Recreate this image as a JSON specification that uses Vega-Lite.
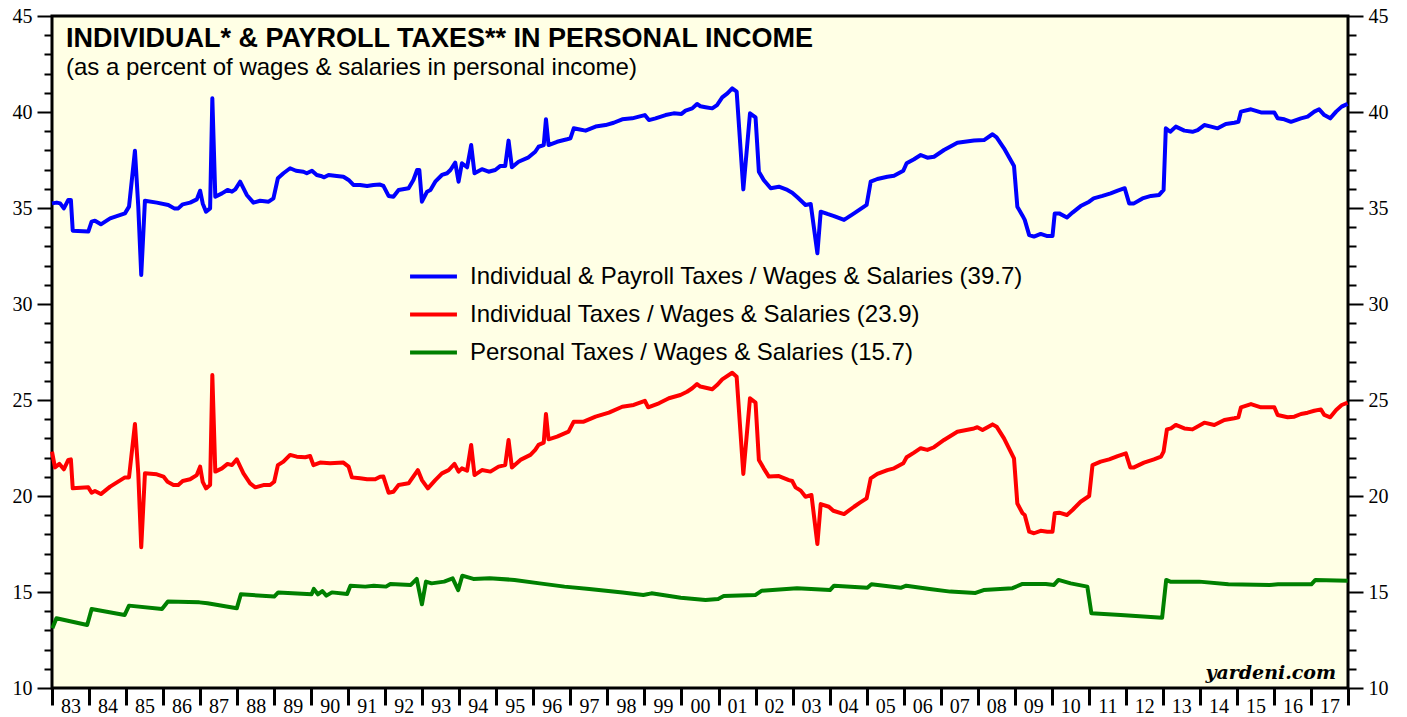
{
  "$schema": "https://vega.github.io/schema/vega-lite/v6.json",
  "width": 1296,
  "height": 672,
  "autosize": "none",
  "padding": {"left": 52, "top": 16, "right": 59, "bottom": 29},
  "background": "white",
  "config": {
    "view": {"fill": "#FFFFE5", "stroke": "#000000", "strokeWidth": 3},
    "axis": {"grid": false, "domain": false, "labelFont": "Liberation Serif", "labelFontSize": 20, "labelColor": "#000000", "tickColor": "#000000", "labelOverlap": false, "labelFlush": false, "labelBound": false}
  },
  "title": {
    "text": "INDIVIDUAL* & PAYROLL TAXES** IN PERSONAL INCOME",
    "subtitle": "(as a percent of wages & salaries in personal income)",
    "anchor": "start",
    "frame": "group",
    "orient": "top",
    "offset": -75,
    "dx": 14,
    "font": "Liberation Sans",
    "fontSize": 27,
    "fontWeight": "bold",
    "color": "#000000",
    "subtitleFont": "Liberation Sans",
    "subtitleFontSize": 24,
    "subtitleColor": "#000000",
    "subtitlePadding": 3
  },
  "layer": [
    {
      "data": {"values": [
        {"series":"IP","year":1983.00,"pct":35.24},{"series":"IP","year":1983.13,"pct":35.28},{"series":"IP","year":1983.22,"pct":35.24},{"series":"IP","year":1983.32,"pct":34.98},{"series":"IP","year":1983.44,"pct":35.42},{"series":"IP","year":1983.51,"pct":35.42},{"series":"IP","year":1983.56,"pct":33.82},{"series":"IP","year":1983.98,"pct":33.77},
        {"series":"IP","year":1984.07,"pct":34.29},{"series":"IP","year":1984.16,"pct":34.34},{"series":"IP","year":1984.32,"pct":34.15},{"series":"IP","year":1984.57,"pct":34.46},{"series":"IP","year":1984.97,"pct":34.72},
        {"series":"IP","year":1985.08,"pct":35.07},{"series":"IP","year":1985.24,"pct":37.98},{"series":"IP","year":1985.33,"pct":35.07},{"series":"IP","year":1985.41,"pct":31.51},{"series":"IP","year":1985.51,"pct":35.38},{"series":"IP","year":1985.83,"pct":35.28},
        {"series":"IP","year":1986.14,"pct":35.16},{"series":"IP","year":1986.30,"pct":34.98},{"series":"IP","year":1986.41,"pct":34.98},{"series":"IP","year":1986.53,"pct":35.19},{"series":"IP","year":1986.73,"pct":35.28},{"series":"IP","year":1986.91,"pct":35.45},
        {"series":"IP","year":1987.00,"pct":35.9},{"series":"IP","year":1987.07,"pct":35.24},{"series":"IP","year":1987.16,"pct":34.81},{"series":"IP","year":1987.27,"pct":34.98},{"series":"IP","year":1987.33,"pct":40.71},{"series":"IP","year":1987.41,"pct":35.59},{"series":"IP","year":1987.59,"pct":35.76},{"series":"IP","year":1987.74,"pct":35.94},{"series":"IP","year":1987.86,"pct":35.85},{"series":"IP","year":1987.95,"pct":35.97},
        {"series":"IP","year":1988.08,"pct":36.37},{"series":"IP","year":1988.26,"pct":35.68},{"series":"IP","year":1988.44,"pct":35.28},{"series":"IP","year":1988.62,"pct":35.38},{"series":"IP","year":1988.85,"pct":35.33},{"series":"IP","year":1988.98,"pct":35.5},
        {"series":"IP","year":1989.10,"pct":36.55},{"series":"IP","year":1989.25,"pct":36.81},{"series":"IP","year":1989.43,"pct":37.07},{"series":"IP","year":1989.59,"pct":36.94},{"series":"IP","year":1989.79,"pct":36.89},{"series":"IP","year":1989.88,"pct":36.81},
        {"series":"IP","year":1990.02,"pct":36.94},{"series":"IP","year":1990.15,"pct":36.72},{"series":"IP","year":1990.26,"pct":36.67},{"series":"IP","year":1990.35,"pct":36.6},{"series":"IP","year":1990.47,"pct":36.72},{"series":"IP","year":1990.69,"pct":36.67},{"series":"IP","year":1990.87,"pct":36.63},
        {"series":"IP","year":1991.01,"pct":36.46},{"series":"IP","year":1991.14,"pct":36.2},{"series":"IP","year":1991.32,"pct":36.2},{"series":"IP","year":1991.51,"pct":36.15},{"series":"IP","year":1991.68,"pct":36.2},{"series":"IP","year":1991.86,"pct":36.22},{"series":"IP","year":1991.95,"pct":36.15},
        {"series":"IP","year":1992.09,"pct":35.63},{"series":"IP","year":1992.22,"pct":35.59},{"series":"IP","year":1992.36,"pct":35.94},{"series":"IP","year":1992.63,"pct":36.03},{"series":"IP","year":1992.76,"pct":36.46},{"series":"IP","year":1992.86,"pct":36.98},{"series":"IP","year":1992.92,"pct":36.98},{"series":"IP","year":1992.99,"pct":35.33},
        {"series":"IP","year":1993.13,"pct":35.85},{"series":"IP","year":1993.22,"pct":35.94},{"series":"IP","year":1993.35,"pct":36.37},{"series":"IP","year":1993.53,"pct":36.72},{"series":"IP","year":1993.67,"pct":36.81},{"series":"IP","year":1993.76,"pct":36.98},{"series":"IP","year":1993.89,"pct":37.36},{"series":"IP","year":1993.98,"pct":36.37},
        {"series":"IP","year":1994.07,"pct":37.33},{"series":"IP","year":1994.21,"pct":37.12},{"series":"IP","year":1994.32,"pct":38.28},{"series":"IP","year":1994.41,"pct":36.81},{"series":"IP","year":1994.61,"pct":37.02},{"series":"IP","year":1994.79,"pct":36.89},{"series":"IP","year":1994.97,"pct":36.98},
        {"series":"IP","year":1995.11,"pct":37.19},{"series":"IP","year":1995.24,"pct":37.19},{"series":"IP","year":1995.33,"pct":38.51},{"series":"IP","year":1995.42,"pct":37.12},{"series":"IP","year":1995.60,"pct":37.41},{"series":"IP","year":1995.87,"pct":37.64},
        {"series":"IP","year":1996.05,"pct":37.93},{"series":"IP","year":1996.14,"pct":38.19},{"series":"IP","year":1996.28,"pct":38.28},{"series":"IP","year":1996.34,"pct":39.62},{"series":"IP","year":1996.41,"pct":38.28},{"series":"IP","year":1996.64,"pct":38.45},{"series":"IP","year":1996.91,"pct":38.58},
        {"series":"IP","year":1997.00,"pct":38.63},{"series":"IP","year":1997.09,"pct":39.15},{"series":"IP","year":1997.22,"pct":39.1},{"series":"IP","year":1997.41,"pct":39.03},{"series":"IP","year":1997.68,"pct":39.24},{"series":"IP","year":1997.95,"pct":39.32},
        {"series":"IP","year":1998.17,"pct":39.44},{"series":"IP","year":1998.40,"pct":39.62},{"series":"IP","year":1998.67,"pct":39.67},{"series":"IP","year":1998.85,"pct":39.76},
        {"series":"IP","year":1999.01,"pct":39.84},{"series":"IP","year":1999.12,"pct":39.58},{"series":"IP","year":1999.30,"pct":39.67},{"series":"IP","year":1999.57,"pct":39.84},{"series":"IP","year":1999.79,"pct":39.93},
        {"series":"IP","year":2000.00,"pct":39.9},{"series":"IP","year":2000.11,"pct":40.07},{"series":"IP","year":2000.29,"pct":40.19},{"series":"IP","year":2000.42,"pct":40.42},{"series":"IP","year":2000.51,"pct":40.3},{"series":"IP","year":2000.65,"pct":40.25},{"series":"IP","year":2000.83,"pct":40.19},{"series":"IP","year":2000.96,"pct":40.36},
        {"series":"IP","year":2001.10,"pct":40.76},{"series":"IP","year":2001.24,"pct":40.97},{"series":"IP","year":2001.37,"pct":41.23},{"series":"IP","year":2001.49,"pct":41.06},{"series":"IP","year":2001.67,"pct":35.97},{"series":"IP","year":2001.85,"pct":39.93},
        {"series":"IP","year":2002.00,"pct":39.72},{"series":"IP","year":2002.09,"pct":36.89},{"series":"IP","year":2002.22,"pct":36.46},{"series":"IP","year":2002.41,"pct":36.03},{"series":"IP","year":2002.63,"pct":36.11},{"series":"IP","year":2002.86,"pct":35.94},{"series":"IP","year":2002.99,"pct":35.8},
        {"series":"IP","year":2003.13,"pct":35.56},{"series":"IP","year":2003.35,"pct":35.16},{"series":"IP","year":2003.49,"pct":35.21},{"series":"IP","year":2003.67,"pct":32.64},{"series":"IP","year":2003.76,"pct":34.81},{"series":"IP","year":2003.94,"pct":34.69},
        {"series":"IP","year":2004.12,"pct":34.58},{"series":"IP","year":2004.39,"pct":34.38},{"series":"IP","year":2004.66,"pct":34.72},{"series":"IP","year":2004.82,"pct":34.93},
        {"series":"IP","year":2005.00,"pct":35.16},{"series":"IP","year":2005.11,"pct":36.37},{"series":"IP","year":2005.29,"pct":36.51},{"series":"IP","year":2005.56,"pct":36.63},{"series":"IP","year":2005.74,"pct":36.68},{"series":"IP","year":2005.99,"pct":36.94},
        {"series":"IP","year":2006.08,"pct":37.33},{"series":"IP","year":2006.28,"pct":37.54},{"series":"IP","year":2006.46,"pct":37.76},{"series":"IP","year":2006.64,"pct":37.62},{"series":"IP","year":2006.82,"pct":37.67},
        {"series":"IP","year":2007.09,"pct":38.02},{"series":"IP","year":2007.45,"pct":38.4},{"series":"IP","year":2007.90,"pct":38.51},
        {"series":"IP","year":2008.17,"pct":38.54},{"series":"IP","year":2008.40,"pct":38.84},{"series":"IP","year":2008.51,"pct":38.68},{"series":"IP","year":2008.71,"pct":38.11},{"series":"IP","year":2008.98,"pct":37.19},
        {"series":"IP","year":2009.07,"pct":35.07},{"series":"IP","year":2009.21,"pct":34.6},{"series":"IP","year":2009.27,"pct":34.38},{"series":"IP","year":2009.39,"pct":33.59},{"series":"IP","year":2009.52,"pct":33.51},{"series":"IP","year":2009.70,"pct":33.65},{"series":"IP","year":2009.88,"pct":33.54},
        {"series":"IP","year":2010.02,"pct":33.54},{"series":"IP","year":2010.08,"pct":34.72},{"series":"IP","year":2010.20,"pct":34.72},{"series":"IP","year":2010.41,"pct":34.51},{"series":"IP","year":2010.56,"pct":34.76},{"series":"IP","year":2010.78,"pct":35.1},
        {"series":"IP","year":2011.01,"pct":35.33},{"series":"IP","year":2011.13,"pct":35.5},{"series":"IP","year":2011.37,"pct":35.63},{"series":"IP","year":2011.59,"pct":35.76},{"series":"IP","year":2011.78,"pct":35.9},{"series":"IP","year":2011.97,"pct":36.03},
        {"series":"IP","year":2012.09,"pct":35.24},{"series":"IP","year":2012.22,"pct":35.24},{"series":"IP","year":2012.45,"pct":35.5},{"series":"IP","year":2012.68,"pct":35.63},{"series":"IP","year":2012.90,"pct":35.68},
        {"series":"IP","year":2013.02,"pct":35.94},{"series":"IP","year":2013.08,"pct":39.15},{"series":"IP","year":2013.20,"pct":38.97},{"series":"IP","year":2013.35,"pct":39.24},{"series":"IP","year":2013.58,"pct":39.03},{"series":"IP","year":2013.80,"pct":38.97},{"series":"IP","year":2013.94,"pct":39.06},
        {"series":"IP","year":2014.12,"pct":39.32},{"series":"IP","year":2014.30,"pct":39.24},{"series":"IP","year":2014.48,"pct":39.15},{"series":"IP","year":2014.70,"pct":39.38},{"series":"IP","year":2014.93,"pct":39.44},
        {"series":"IP","year":2015.04,"pct":39.49},{"series":"IP","year":2015.11,"pct":40.02},{"series":"IP","year":2015.38,"pct":40.14},{"series":"IP","year":2015.65,"pct":39.98},
        {"series":"IP","year":2016.01,"pct":39.97},{"series":"IP","year":2016.10,"pct":39.67},{"series":"IP","year":2016.28,"pct":39.62},{"series":"IP","year":2016.46,"pct":39.49},{"series":"IP","year":2016.73,"pct":39.67},{"series":"IP","year":2016.91,"pct":39.76},
        {"series":"IP","year":2017.09,"pct":40.02},{"series":"IP","year":2017.22,"pct":40.14},{"series":"IP","year":2017.36,"pct":39.84},{"series":"IP","year":2017.52,"pct":39.67},{"series":"IP","year":2017.68,"pct":40.02},{"series":"IP","year":2017.83,"pct":40.28},{"series":"IP","year":2017.99,"pct":40.42},

        {"series":"I","year":1983.00,"pct":22.31},{"series":"I","year":1983.08,"pct":21.49},{"series":"I","year":1983.20,"pct":21.67},{"series":"I","year":1983.32,"pct":21.39},{"series":"I","year":1983.44,"pct":21.88},{"series":"I","year":1983.51,"pct":21.91},{"series":"I","year":1983.56,"pct":20.4},{"series":"I","year":1983.98,"pct":20.45},
        {"series":"I","year":1984.07,"pct":20.17},{"series":"I","year":1984.16,"pct":20.26},{"series":"I","year":1984.32,"pct":20.1},{"series":"I","year":1984.57,"pct":20.49},{"series":"I","year":1984.97,"pct":20.97},
        {"series":"I","year":1985.08,"pct":20.97},{"series":"I","year":1985.24,"pct":23.75},{"series":"I","year":1985.33,"pct":21.18},{"series":"I","year":1985.41,"pct":17.33},{"series":"I","year":1985.51,"pct":21.18},{"series":"I","year":1985.83,"pct":21.13},
        {"series":"I","year":1986.01,"pct":21.01},{"series":"I","year":1986.12,"pct":20.74},{"series":"I","year":1986.28,"pct":20.57},{"series":"I","year":1986.41,"pct":20.57},{"series":"I","year":1986.53,"pct":20.78},{"series":"I","year":1986.73,"pct":20.87},{"series":"I","year":1986.91,"pct":21.09},
        {"series":"I","year":1987.00,"pct":21.53},{"series":"I","year":1987.07,"pct":20.74},{"series":"I","year":1987.16,"pct":20.4},{"series":"I","year":1987.27,"pct":20.57},{"series":"I","year":1987.33,"pct":26.3},{"series":"I","year":1987.41,"pct":21.27},{"series":"I","year":1987.59,"pct":21.44},{"series":"I","year":1987.74,"pct":21.67},{"series":"I","year":1987.86,"pct":21.61},{"series":"I","year":1987.99,"pct":21.91},
        {"series":"I","year":1988.17,"pct":21.18},{"series":"I","year":1988.35,"pct":20.66},{"series":"I","year":1988.49,"pct":20.45},{"series":"I","year":1988.71,"pct":20.57},{"series":"I","year":1988.89,"pct":20.57},
        {"series":"I","year":1989.00,"pct":20.74},{"series":"I","year":1989.10,"pct":21.61},{"series":"I","year":1989.25,"pct":21.79},{"series":"I","year":1989.43,"pct":22.14},{"series":"I","year":1989.61,"pct":22.05},{"series":"I","year":1989.84,"pct":22.02},{"series":"I","year":1989.97,"pct":22.08},
        {"series":"I","year":1990.06,"pct":21.61},{"series":"I","year":1990.24,"pct":21.74},{"series":"I","year":1990.51,"pct":21.7},{"series":"I","year":1990.87,"pct":21.74},
        {"series":"I","year":1991.01,"pct":21.53},{"series":"I","year":1991.10,"pct":20.97},{"series":"I","year":1991.32,"pct":20.92},{"series":"I","year":1991.51,"pct":20.87},{"series":"I","year":1991.73,"pct":20.87},{"series":"I","year":1991.86,"pct":21.0},{"series":"I","year":1991.95,"pct":21.01},
        {"series":"I","year":1992.09,"pct":20.17},{"series":"I","year":1992.22,"pct":20.22},{"series":"I","year":1992.36,"pct":20.57},{"series":"I","year":1992.63,"pct":20.66},{"series":"I","year":1992.88,"pct":21.35},{"series":"I","year":1992.99,"pct":20.83},
        {"series":"I","year":1993.15,"pct":20.4},{"series":"I","year":1993.35,"pct":20.83},{"series":"I","year":1993.53,"pct":21.18},{"series":"I","year":1993.71,"pct":21.35},{"series":"I","year":1993.87,"pct":21.67},{"series":"I","year":1993.98,"pct":21.27},
        {"series":"I","year":1994.07,"pct":21.44},{"series":"I","year":1994.21,"pct":21.32},{"series":"I","year":1994.32,"pct":22.66},{"series":"I","year":1994.41,"pct":21.09},{"series":"I","year":1994.61,"pct":21.35},{"series":"I","year":1994.84,"pct":21.27},
        {"series":"I","year":1995.06,"pct":21.53},{"series":"I","year":1995.24,"pct":21.61},{"series":"I","year":1995.33,"pct":22.92},{"series":"I","year":1995.42,"pct":21.48},{"series":"I","year":1995.65,"pct":21.88},{"series":"I","year":1995.92,"pct":22.14},
        {"series":"I","year":1996.05,"pct":22.4},{"series":"I","year":1996.14,"pct":22.66},{"series":"I","year":1996.28,"pct":22.78},{"series":"I","year":1996.34,"pct":24.27},{"series":"I","year":1996.41,"pct":22.95},{"series":"I","year":1996.64,"pct":23.09},{"series":"I","year":1996.95,"pct":23.35},
        {"series":"I","year":1997.09,"pct":23.87},{"series":"I","year":1997.36,"pct":23.87},{"series":"I","year":1997.68,"pct":24.13},
        {"series":"I","year":1998.04,"pct":24.34},{"series":"I","year":1998.40,"pct":24.65},{"series":"I","year":1998.71,"pct":24.74},
        {"series":"I","year":1999.01,"pct":24.96},{"series":"I","year":1999.10,"pct":24.62},{"series":"I","year":1999.39,"pct":24.83},{"series":"I","year":1999.66,"pct":25.09},{"series":"I","year":1999.97,"pct":25.26},
        {"series":"I","year":2000.15,"pct":25.43},{"series":"I","year":2000.29,"pct":25.61},{"series":"I","year":2000.42,"pct":25.83},{"series":"I","year":2000.51,"pct":25.7},{"series":"I","year":2000.83,"pct":25.56},{"series":"I","year":2000.96,"pct":25.78},
        {"series":"I","year":2001.10,"pct":26.07},{"series":"I","year":2001.37,"pct":26.42},{"series":"I","year":2001.49,"pct":26.21},{"series":"I","year":2001.67,"pct":21.15},{"series":"I","year":2001.85,"pct":25.09},
        {"series":"I","year":2002.00,"pct":24.86},{"series":"I","year":2002.09,"pct":21.88},{"series":"I","year":2002.22,"pct":21.44},{"series":"I","year":2002.36,"pct":21.01},{"series":"I","year":2002.63,"pct":21.04},{"series":"I","year":2002.90,"pct":20.83},{"series":"I","year":2002.99,"pct":20.78},
        {"series":"I","year":2003.08,"pct":20.45},{"series":"I","year":2003.22,"pct":20.28},{"series":"I","year":2003.35,"pct":19.96},{"series":"I","year":2003.51,"pct":20.05},{"series":"I","year":2003.67,"pct":17.5},{"series":"I","year":2003.76,"pct":19.58},{"series":"I","year":2003.98,"pct":19.44},
        {"series":"I","year":2004.10,"pct":19.23},{"series":"I","year":2004.39,"pct":19.06},{"series":"I","year":2004.66,"pct":19.44},{"series":"I","year":2004.82,"pct":19.65},
        {"series":"I","year":2005.00,"pct":19.88},{"series":"I","year":2005.11,"pct":20.92},{"series":"I","year":2005.29,"pct":21.15},{"series":"I","year":2005.56,"pct":21.35},{"series":"I","year":2005.74,"pct":21.44},{"series":"I","year":2005.99,"pct":21.7},
        {"series":"I","year":2006.08,"pct":22.02},{"series":"I","year":2006.28,"pct":22.26},{"series":"I","year":2006.46,"pct":22.49},{"series":"I","year":2006.64,"pct":22.4},{"series":"I","year":2006.82,"pct":22.54},
        {"series":"I","year":2007.09,"pct":22.92},{"series":"I","year":2007.45,"pct":23.35},{"series":"I","year":2007.90,"pct":23.52},{"series":"I","year":2007.99,"pct":23.58},
        {"series":"I","year":2008.13,"pct":23.44},{"series":"I","year":2008.40,"pct":23.73},{"series":"I","year":2008.51,"pct":23.61},{"series":"I","year":2008.71,"pct":23.0},{"series":"I","year":2008.98,"pct":21.96},
        {"series":"I","year":2009.07,"pct":19.61},{"series":"I","year":2009.21,"pct":19.1},{"series":"I","year":2009.27,"pct":19.01},{"series":"I","year":2009.39,"pct":18.14},{"series":"I","year":2009.52,"pct":18.06},{"series":"I","year":2009.70,"pct":18.19},{"series":"I","year":2009.88,"pct":18.14},
        {"series":"I","year":2010.02,"pct":18.14},{"series":"I","year":2010.08,"pct":19.1},{"series":"I","year":2010.20,"pct":19.13},{"series":"I","year":2010.41,"pct":19.01},{"series":"I","year":2010.56,"pct":19.27},{"series":"I","year":2010.78,"pct":19.7},
        {"series":"I","year":2011.01,"pct":20.0},{"series":"I","year":2011.10,"pct":21.61},{"series":"I","year":2011.32,"pct":21.79},{"series":"I","year":2011.55,"pct":21.91},{"series":"I","year":2011.78,"pct":22.08},
        {"series":"I","year":2012.00,"pct":22.22},{"series":"I","year":2012.12,"pct":21.49},{"series":"I","year":2012.22,"pct":21.49},{"series":"I","year":2012.49,"pct":21.74},{"series":"I","year":2012.76,"pct":21.91},{"series":"I","year":2012.95,"pct":22.05},
        {"series":"I","year":2013.02,"pct":22.31},{"series":"I","year":2013.11,"pct":23.47},{"series":"I","year":2013.22,"pct":23.52},{"series":"I","year":2013.35,"pct":23.7},{"series":"I","year":2013.58,"pct":23.52},{"series":"I","year":2013.80,"pct":23.47},
        {"series":"I","year":2014.12,"pct":23.82},{"series":"I","year":2014.39,"pct":23.7},{"series":"I","year":2014.66,"pct":23.96},{"series":"I","year":2014.93,"pct":24.05},
        {"series":"I","year":2015.04,"pct":24.1},{"series":"I","year":2015.11,"pct":24.62},{"series":"I","year":2015.38,"pct":24.79},{"series":"I","year":2015.65,"pct":24.62},
        {"series":"I","year":2016.01,"pct":24.62},{"series":"I","year":2016.10,"pct":24.22},{"series":"I","year":2016.37,"pct":24.1},{"series":"I","year":2016.55,"pct":24.13},{"series":"I","year":2016.73,"pct":24.27},{"series":"I","year":2016.91,"pct":24.34},
        {"series":"I","year":2017.09,"pct":24.44},{"series":"I","year":2017.27,"pct":24.51},{"series":"I","year":2017.36,"pct":24.22},{"series":"I","year":2017.52,"pct":24.1},{"series":"I","year":2017.68,"pct":24.48},{"series":"I","year":2017.83,"pct":24.74},{"series":"I","year":2017.99,"pct":24.86},

        {"series":"P","year":1983.01,"pct":13.11},{"series":"P","year":1983.12,"pct":13.63},{"series":"P","year":1983.95,"pct":13.28},{"series":"P","year":1984.07,"pct":14.11},{"series":"P","year":1984.96,"pct":13.8},{"series":"P","year":1985.08,"pct":14.29},{"series":"P","year":1985.97,"pct":14.11},{"series":"P","year":1986.13,"pct":14.5},{"series":"P","year":1986.98,"pct":14.46},{"series":"P","year":1987.20,"pct":14.41},{"series":"P","year":1987.99,"pct":14.15},
        {"series":"P","year":1988.10,"pct":14.88},{"series":"P","year":1989.00,"pct":14.76},{"series":"P","year":1989.11,"pct":14.98},{"series":"P","year":1990.01,"pct":14.88},{"series":"P","year":1990.07,"pct":15.16},{"series":"P","year":1990.18,"pct":14.88},{"series":"P","year":1990.30,"pct":15.05},{"series":"P","year":1990.41,"pct":14.81},{"series":"P","year":1990.56,"pct":14.98},{"series":"P","year":1990.97,"pct":14.9},
        {"series":"P","year":1991.06,"pct":15.33},{"series":"P","year":1991.46,"pct":15.28},{"series":"P","year":1991.69,"pct":15.33},{"series":"P","year":1992.02,"pct":15.28},{"series":"P","year":1992.14,"pct":15.42},{"series":"P","year":1992.69,"pct":15.37},{"series":"P","year":1992.85,"pct":15.68},{"series":"P","year":1992.99,"pct":14.36},{"series":"P","year":1993.10,"pct":15.54},{"series":"P","year":1993.25,"pct":15.45},{"series":"P","year":1993.59,"pct":15.54},{"series":"P","year":1993.82,"pct":15.71},{"series":"P","year":1993.97,"pct":15.1},
        {"series":"P","year":1994.08,"pct":15.85},{"series":"P","year":1994.38,"pct":15.68},{"series":"P","year":1994.82,"pct":15.71},{"series":"P","year":1995.49,"pct":15.63},{"series":"P","year":1996.17,"pct":15.45},{"series":"P","year":1996.84,"pct":15.28},{"series":"P","year":1997.51,"pct":15.16},{"series":"P","year":1998.41,"pct":14.97},{"series":"P","year":1998.97,"pct":14.84},{"series":"P","year":1999.19,"pct":14.93},{"series":"P","year":1999.98,"pct":14.7},
        {"series":"P","year":2000.65,"pct":14.58},{"series":"P","year":2000.99,"pct":14.64},{"series":"P","year":2001.14,"pct":14.79},{"series":"P","year":2001.99,"pct":14.84},{"series":"P","year":2002.17,"pct":15.07},{"series":"P","year":2003.12,"pct":15.2},{"series":"P","year":2004.01,"pct":15.1},{"series":"P","year":2004.12,"pct":15.33},{"series":"P","year":2005.02,"pct":15.22},{"series":"P","year":2005.13,"pct":15.4},{"series":"P","year":2005.92,"pct":15.22},{"series":"P","year":2006.07,"pct":15.33},{"series":"P","year":2006.70,"pct":15.16},{"series":"P","year":2007.26,"pct":15.02},{"series":"P","year":2007.94,"pct":14.95},{"series":"P","year":2008.16,"pct":15.1},{"series":"P","year":2008.94,"pct":15.2},{"series":"P","year":2009.21,"pct":15.42},{"series":"P","year":2009.84,"pct":15.42},
        {"series":"P","year":2010.06,"pct":15.37},{"series":"P","year":2010.18,"pct":15.63},{"series":"P","year":2010.51,"pct":15.45},{"series":"P","year":2010.96,"pct":15.28},{"series":"P","year":2011.07,"pct":13.89},{"series":"P","year":2011.86,"pct":13.8},{"series":"P","year":2012.98,"pct":13.66},{"series":"P","year":2013.09,"pct":15.63},{"series":"P","year":2013.20,"pct":15.54},{"series":"P","year":2013.98,"pct":15.54},{"series":"P","year":2014.77,"pct":15.4},{"series":"P","year":2015.89,"pct":15.37},{"series":"P","year":2016.11,"pct":15.4},{"series":"P","year":2017.01,"pct":15.4},{"series":"P","year":2017.12,"pct":15.63},{"series":"P","year":2017.99,"pct":15.59}
      ]},
      "mark": {"type": "line", "strokeWidth": 4, "strokeJoin": "round"},
      "encoding": {
        "x": {
          "field": "year", "type": "quantitative",
          "scale": {"domain": [1983, 2018], "nice": false, "zero": false},
          "axis": {
            "orient": "bottom", "title": null, "tickCount": 40,
            "values": [1983,1984,1985,1986,1987,1988,1989,1990,1991,1992,1993,1994,1995,1996,1997,1998,1999,2000,2001,2002,2003,2004,2005,2006,2007,2008,2009,2010,2011,2012,2013,2014,2015,2016,2017,2018],
            "tickSize": 17, "tickWidth": 3,
            "labelExpr": "datum.value < 2018 ? substring('' + (100 + datum.value % 100), 1) : ''",
            "labelOffset": 18.5, "labelPadding": -9, "labelBaseline": "top", "labelAlign": "center"
          }
        },
        "y": {
          "field": "pct", "type": "quantitative",
          "scale": {"domain": [10, 45], "nice": false, "zero": false},
          "axis": {
            "orient": "left", "title": null, "tickCount": 40,
            "values": [10,11,12,13,14,15,16,17,18,19,20,21,22,23,24,25,26,27,28,29,30,31,32,33,34,35,36,37,38,39,40,41,42,43,44,45],
            "tickSize": {"condition": {"test": "datum.value % 5 === 0", "value": 15}, "value": 8},
            "tickWidth": 2,
            "labelExpr": "datum.value % 5 === 0 ? datum.label : ''",
            "labelPadding": 5
          }
        },
        "color": {
          "field": "series", "type": "nominal",
          "scale": {"domain": ["IP", "I", "P"], "range": ["#0000FF", "#FF0000", "#008000"]},
          "legend": {
            "orient": "none", "legendX": 356, "legendY": 235, "title": null,
            "symbolType": "stroke", "symbolSize": 2200, "symbolStrokeWidth": 4,
            "labelFont": "Liberation Sans", "labelFontSize": 24, "labelColor": "#000000",
            "labelOffset": 11, "rowPadding": -5, "labelLimit": 0,
            "labelExpr": "datum.label == 'IP' ? 'Individual & Payroll Taxes / Wages & Salaries (39.7)' : datum.label == 'I' ? 'Individual Taxes / Wages & Salaries (23.9)' : 'Personal Taxes / Wages & Salaries (15.7)'"
          }
        }
      }
    },
    {
      "data": {"values": [{"label": "yardeni.com", "year": 2017.68, "pct": 10.45}]},
      "mark": {"type": "text", "align": "right", "baseline": "alphabetic", "font": "DejaVu Serif", "fontStyle": "italic", "fontWeight": "bold", "fontSize": 19, "color": "#000000"},
      "encoding": {
        "x": {"field": "year", "type": "quantitative"},
        "y": {
          "field": "pct", "type": "quantitative",
          "axis": {
            "orient": "right", "title": null, "tickCount": 40,
            "values": [10,11,12,13,14,15,16,17,18,19,20,21,22,23,24,25,26,27,28,29,30,31,32,33,34,35,36,37,38,39,40,41,42,43,44,45],
            "tickSize": {"condition": {"test": "datum.value % 5 === 0", "value": 15}, "value": 8},
            "tickWidth": 2,
            "labelExpr": "datum.value % 5 === 0 ? datum.label : ''",
            "labelPadding": 5
          }
        },
        "text": {"field": "label"}
      }
    }
  ],
  "resolve": {"axis": {"y": "independent"}}
}
